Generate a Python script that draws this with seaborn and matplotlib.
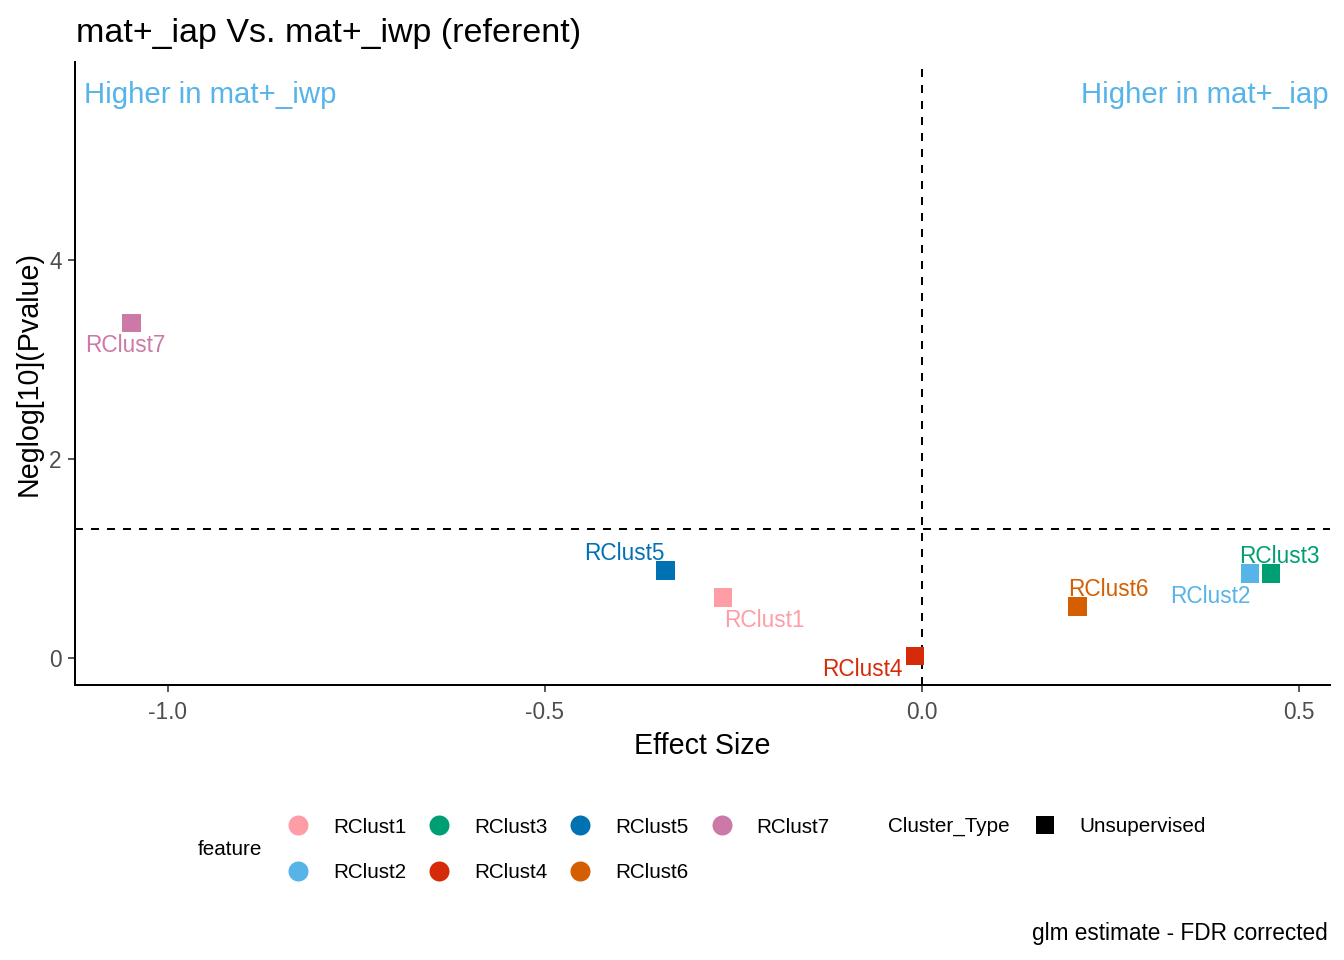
import numpy as np
import pandas as pd
import matplotlib
matplotlib.use('Agg')
import matplotlib.pyplot as plt
from matplotlib.lines import Line2D
import seaborn as sns

features = ['RClust1', 'RClust2', 'RClust3', 'RClust4', 'RClust5', 'RClust6', 'RClust7']
effect_size = [-0.264, 0.435, 0.463, -0.009, -0.340, 0.206, -1.048]
neglog_p = [0.61, 0.85, 0.85, 0.02, 0.88, 0.52, 3.37]
colors = ['#FF9DA7', '#56B4E9', '#009E73', '#D52B0A', '#0072B2', '#D55E00', '#CC79A7']
# label offsets in points (repel-like placement)
label_dx = [31, -30, 6, -40, -31, 23, -5]
label_dy = [-17, -17, 13, -10, 13, 13, -17]

df = pd.DataFrame({'feature': features, 'effect': effect_size, 'neglog': neglog_p,
                   'Cluster_Type': 'Unsupervised'})
palette = dict(zip(features, colors))

sns.set_theme(style='ticks')
plt.rcParams['font.family'] = ['Liberation Sans', 'DejaVu Sans']
plt.rcParams['text.color'] = 'black'
plt.rcParams['axes.labelcolor'] = 'black'

fig = plt.figure(figsize=(14, 10), dpi=96)
ax = fig.add_axes([0.0558, 0.2865, 0.9338, 0.6489])

sns.scatterplot(data=df, x='effect', y='neglog', hue='feature', palette=palette,
                marker='s', s=190, linewidth=0, legend=False, ax=ax, zorder=3)

ax.axhline(-np.log10(0.05), color='black', linestyle=(0, (4, 4)), lw=1.5, zorder=1)
ax.axvline(0, color='black', linestyle=(0, (4, 4)), lw=1.5, zorder=1)

for f, x, y, c, dx, dy in zip(features, effect_size, neglog_p, colors, label_dx, label_dy):
    ax.annotate(f, (x, y), xytext=(dx, dy), textcoords='offset points',
                ha='center', va='center', color=c, fontsize=17)

ax.text(0.007, 0.947, 'Higher in mat+_iwp', transform=ax.transAxes, ha='left', va='center',
        color='#56B4E9', fontsize=22)
ax.text(0.999, 0.947, 'Higher in mat+_iap', transform=ax.transAxes, ha='right', va='center',
        color='#56B4E9', fontsize=22)

ax.set_xlim(-1.123, 0.541)
ax.set_ylim(-0.27, 5.99)
ax.set_xticks([-1.0, -0.5, 0.0, 0.5])
ax.set_xticklabels(['-1.0', '-0.5', '0.0', '0.5'])
ax.set_yticks([0, 2, 4])
ax.tick_params(labelsize=17, labelcolor='#4D4D4D', color='#333333', length=5, width=1.2)
ax.tick_params(axis='x', pad=7)
ax.tick_params(axis='y', pad=5)
for sp in ['top', 'right']:
    ax.spines[sp].set_visible(False)
for sp in ['left', 'bottom']:
    ax.spines[sp].set_linewidth(1.5)
    ax.spines[sp].set_color('black')

ax.set_xlabel('Effect Size', fontsize=21.5, labelpad=6)
ax.set_ylabel('Neglog[10](Pvalue)', fontsize=21.5, labelpad=5)
ax.set_title('mat+_iap Vs. mat+_iwp (referent)', loc='left', fontsize=25.5, pad=15, x=0.001)

# legends
handles = [Line2D([], [], marker='o', linestyle='', markersize=15, markerfacecolor=c,
                  markeredgewidth=0, label=f) for f, c in zip(features, colors)]
fig.legend(handles=handles, ncol=4, loc='center left', bbox_to_anchor=(0.2005, 0.1146),
           frameon=False, fontsize=15.5, handletextpad=1.19, columnspacing=1.09,
           labelspacing=1.3, handlelength=1.0)
fig.text(0.1473, 0.1156, 'feature', fontsize=15.5, ha='left', va='center')

sq = [Line2D([], [], marker='s', linestyle='', markersize=13.5, markerfacecolor='black',
             markeredgewidth=0, label='Unsupervised')]
fig.legend(handles=sq, loc='center left', bbox_to_anchor=(0.7558, 0.1390), frameon=False,
           fontsize=15.5, handletextpad=1.19, handlelength=1.0)
fig.text(0.661, 0.1390, 'Cluster_Type', fontsize=15.5, ha='left', va='center')

fig.text(0.988, 0.028, 'glm estimate - FDR corrected', fontsize=17, ha='right', va='center')

fig.savefig('out.png', dpi=96, facecolor='white')
